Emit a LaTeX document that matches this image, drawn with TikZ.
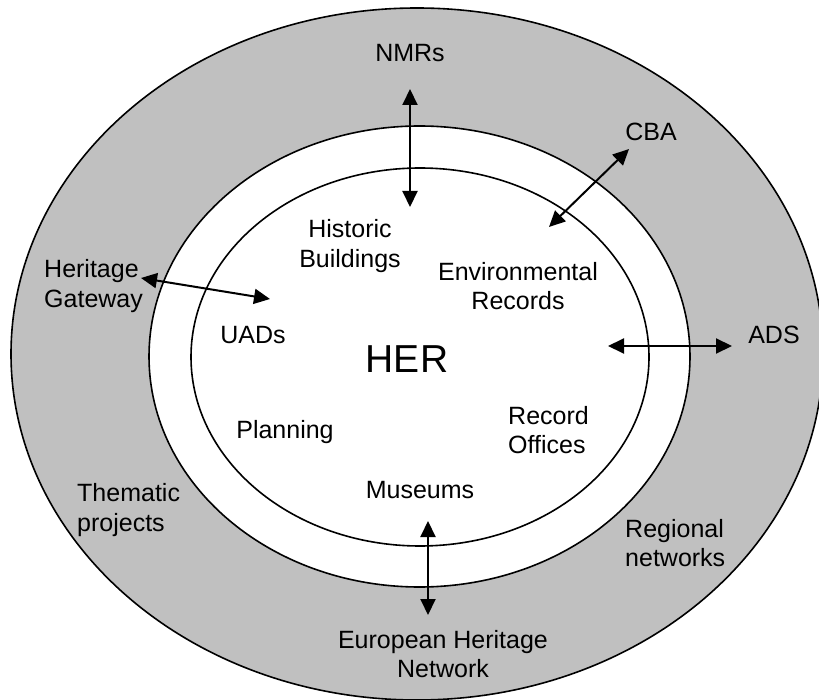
\documentclass[tikz,border=0pt]{standalone}
\usepackage{fontspec}
\setmainfont{Liberation Sans}
\usetikzlibrary{arrows.meta}
\definecolor{ringgray}{RGB}{192,192,192}
\begin{document}
\begin{tikzpicture}[x=1pt,y=-1pt,
  ring/.style={draw=black,line width=1.6pt},
  lbl/.style={font=\fontsize{25}{29.5}\selectfont,inner sep=0pt,align=center},
  lbll/.style={lbl,align=left,anchor=west},
  link/.style={line width=2pt,
    {Triangle[length=16pt,width=15pt]}-{Triangle[length=16pt,width=15pt]}}]
\useasboundingbox (0,0) rectangle (819,700);
\clip (0,0) rectangle (819,700);
\fill[white] (0,0) rectangle (819,700);

% the three rings
\draw[ring,fill=ringgray] (417,354) ellipse [x radius=406, y radius=346];
\draw[ring,fill=white] (419.5,356.5) ellipse [x radius=270.5, y radius=230.5];
\draw[ring] (420,357) ellipse [x radius=229, y radius=189];

% labels
\node[lbl] (nmrs) at (410,53) {NMRs};
\node[lbl] (cba) at (651,132) {CBA};
\node[lbl] (hist) at (350,246) {Historic\\Buildings};
\node[lbl] (env) at (518,286) {Environmental\\Records};
\node[lbll] (hg) at (44,286) {Heritage\\Gateway};
\node[lbl] (uads) at (253,335) {UADs};
\node[font=\fontsize{39}{45}\selectfont,inner sep=0pt] (her) at (407,359) {HER};
\node[lbl] (ads) at (774,335) {ADS};
\node[lbl] (plan) at (285,432) {Planning};
\node[lbll] (rec) at (508,430) {Record\\Offices};
\node[lbl] (mus) at (420,490) {Museums};
\node[lbll] (them) at (77,510) {Thematic\\projects};
\node[lbll] (reg) at (625,543) {Regional\\networks};
\node[lbl] (ehn) at (443,654) {European Heritage\\Network};

% arrow ends
\coordinate (nmrOut) at (410,89);
\coordinate (nmrIn) at (410,207);
\coordinate (cbaOut) at (629,149);
\coordinate (cbaIn) at (549,227);
\coordinate (hgOut) at (141,278);
\coordinate (hgIn) at (270,299);
\coordinate (adsIn) at (608,346);
\coordinate (adsOut) at (732,346);
\coordinate (ehnIn) at (428,521);
\coordinate (ehnOut) at (428,615);

% two-way links
\draw[link] (nmrOut) -- (nmrIn);
\draw[link] (cbaOut) -- (cbaIn);
\draw[link] (hgOut) -- (hgIn);
\draw[link] (adsIn) -- (adsOut);
\draw[link] (ehnIn) -- (ehnOut);
\end{tikzpicture}
\end{document}
